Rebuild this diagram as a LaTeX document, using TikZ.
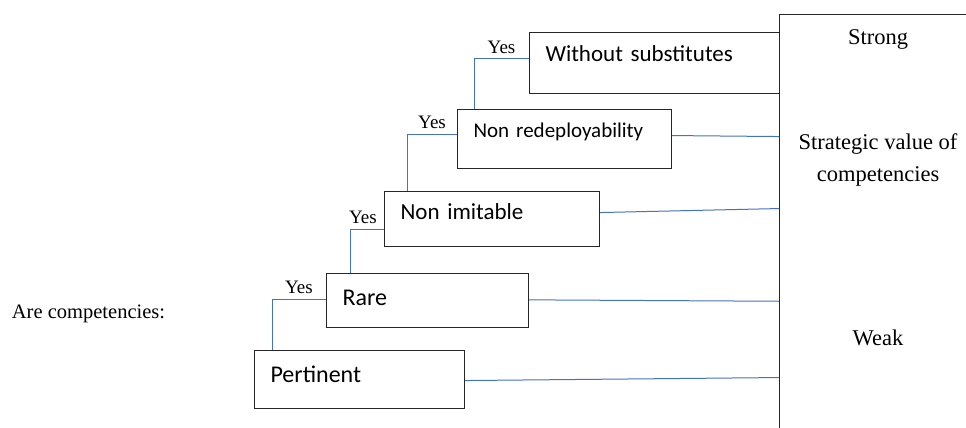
\documentclass[tikz,border=0pt]{standalone}
\usepackage{fontspec}
\setmainfont{Liberation Serif}
\newfontfamily\boxfont{Carlito}
\usepackage{tikz}
\usetikzlibrary{positioning,calc}
\definecolor{linkblue}{RGB}{68,114,196}

\begin{document}
\begin{tikzpicture}[x=1pt, y=-1pt, auto, node distance=2cm, inner sep=2pt,
  box/.style={draw=black!85, line width=1.1pt, anchor=north west, align=left, inner xsep=16pt, inner ysep=0pt, font=\boxfont\fontsize{24}{28}\selectfont},
  link/.style={draw=linkblue, line width=1pt},
  yes/.style={above, inner sep=5pt, font=\fontsize{19}{22}\selectfont},
  lbl/.style={font=\fontsize{22.5}{32}\selectfont, align=center}]
\useasboundingbox (0,0) rectangle (966,428);

\node[box, text width=178pt, text height=32pt, text depth=26pt] (pert) at (254,350) {Pertinent};
\node[box, text width=170pt, text height=32pt, text depth=22pt] (rare) [above right=77pt and 72pt of pert.north west, anchor=north west] {Rare};
\node[box, text width=183pt, text height=28pt, text depth=27pt, font=\boxfont\fontsize{23}{28}\selectfont] (imit) [above right=82pt and 58pt of rare.north west, anchor=north west] {Non imitable};
\node[box, text width=182pt, text height=28pt, text depth=31pt, font=\boxfont\fontsize{21}{26}\selectfont] (redep) [above right=82pt and 73pt of imit.north west, anchor=north west] {Non redeployability};
\node[box, text width=218pt, text height=29pt, text depth=32pt, font=\boxfont\fontsize{23}{28}\selectfont] (subst) [above right=77pt and 72pt of redep.north west, anchor=north west] {Without substitutes};

\node[draw=black!85, line width=0.9pt, anchor=north west, minimum width=220pt, minimum height=440pt, inner sep=0pt] (val) at (779,14) {};
\node[lbl, anchor=base] (strong) at (878,45) {Strong};
\node[lbl] (stratval) at (878,160) {Strategic value of\\competencies};
\node[lbl, anchor=base] (weak) at (878,345) {Weak};
\node[font=\fontsize{20.5}{24}\selectfont, anchor=base] (question) at (88.5,318) {Are competencies:};

\draw[link] ([xshift=18pt]pert.north west) |- ([yshift=-26pt]rare.north west) node[yes, pos=0.75] {Yes};
\draw[link] ([xshift=24pt]rare.north west) |- ([yshift=-38pt]imit.north west) node[yes, pos=0.75, xshift=-4pt] {Yes};
\draw[link] ([xshift=23pt]imit.north west) |- ([yshift=-25pt]redep.north west) node[yes, pos=0.75] {Yes};
\draw[link] ([xshift=17pt]redep.north west) |- ([yshift=-27pt]subst.north west) node[yes, pos=0.75] {Yes};

\draw[link] ($(pert.east)+(0,1)$) -- ($(pert.east -| val.west)+(0,-2)$);
\draw[link] ($(rare.east)+(0,-0.7)$) -- ($(rare.east -| val.west)+(0,0.7)$);
\draw[link] ($(imit.east)+(0,-6.5)$) -- ($(imit.east -| val.west)+(0,-10.5)$);
\draw[link] ($(redep.east)+(0,-3.5)$) -- ($(redep.east -| val.west)+(0,-2.5)$);
\end{tikzpicture}
\end{document}
